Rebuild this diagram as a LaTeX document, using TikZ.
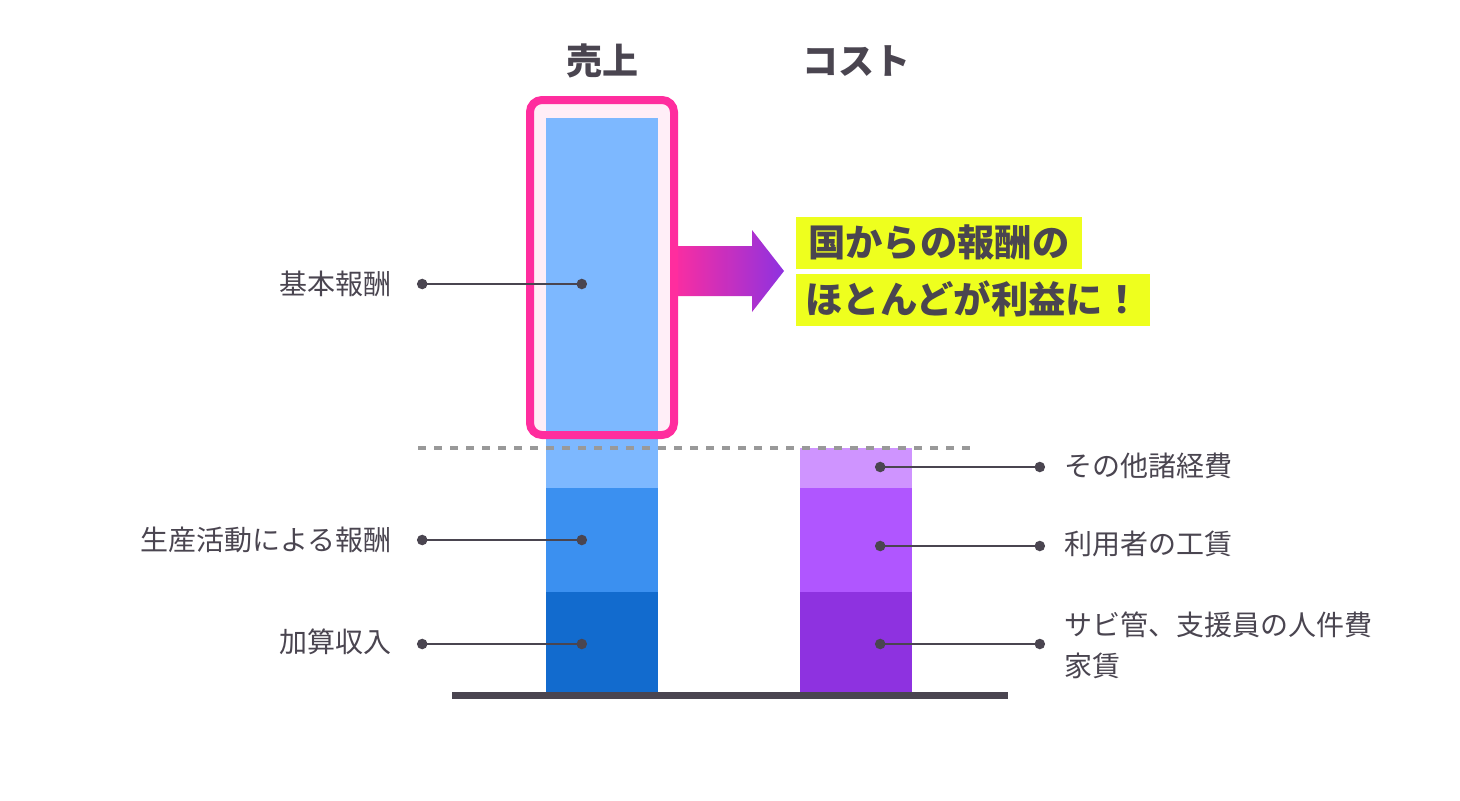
\documentclass[tikz,border=0pt]{standalone}
\usepackage{fontspec}
\setmainfont{Noto Sans CJK JP}
\usetikzlibrary{calc,shapes,arrows,positioning}

\definecolor{inkgray}{HTML}{4A4550}
\definecolor{dashgray}{HTML}{999999}
\definecolor{saleslight}{HTML}{7DB8FF}
\definecolor{salesmid}{HTML}{3B90F0}
\definecolor{salesdark}{HTML}{126BCE}
\definecolor{costlight}{HTML}{CF94FF}
\definecolor{costmid}{HTML}{B056FF}
\definecolor{costdark}{HTML}{8E32E0}
\definecolor{framepink}{HTML}{FF2D9E}
\definecolor{framefill}{HTML}{FFEEF7}
\definecolor{hilite}{HTML}{EEFF1E}

\tikzset{
  leader/.style={draw=inkgray, line width=1.5pt, *-*, shorten <=-3.75pt, shorten >=-3.75pt},
  lefttag/.style={anchor=east, text=inkgray, font=\fontsize{21pt}{26pt}\selectfont, inner sep=0pt},
  righttag/.style={anchor=west, text=inkgray, font=\fontsize{21pt}{31pt}\selectfont, inner sep=0pt, align=left},
  head/.style={text=inkgray, font=\fontsize{27pt}{32pt}\selectfont\bfseries, inner sep=0pt},
  callout/.style={fill=hilite, text=inkgray, font=\fontsize{28pt}{32pt}\selectfont\bfseries,
    inner xsep=9pt, inner ysep=0pt, minimum height=39pt, text height=24pt, text depth=4pt}
}

\begin{document}
\begin{tikzpicture}[x=0.75pt,y=-0.75pt]
    \useasboundingbox (0,0) rectangle (1460,800);
    % headers
    \node[head] (uriage) at (602,61) {売上};
    \node[head] (cost) at (856,61) {コスト};
    % arrow to the message
    \shade[left color=framepink, right color=costdark]
        (670,246) -- (752,246) -- (752,230) -- (784,271) -- (752,312) -- (752,296) -- (670,296) -- cycle;
    % frame round the sales bar
    \fill[framefill, rounded corners=9pt] (530,100) rectangle (674,435);
    % sales bar
    \fill[saleslight] (546,118) rectangle (658,488);
    \fill[salesmid] (546,488) rectangle (658,592);
    \fill[salesdark] (546,592) rectangle (658,692);
    \draw[framepink, line width=6pt, rounded corners=9pt] (530,100) rectangle (674,435);
    % cost bar
    \fill[costlight] (800,448) rectangle (912,488);
    \fill[costmid] (800,488) rectangle (912,592);
    \fill[costdark] (800,592) rectangle (912,692);
    % base and dashed level
    \fill[inkgray] (452,692) rectangle (1008,699);
    \draw[dashgray, line width=3pt, dash pattern=on 6pt off 6pt] (418,448) -- (975,448);
    % leaders, left side
    \coordinate (kihonL) at (422,284);   \coordinate (kihonR) at (582,284);
    \coordinate (seisanL) at (422,540);  \coordinate (seisanR) at (582,540);
    \coordinate (kasanL) at (422,644);   \coordinate (kasanR) at (582,644);
    \draw[leader] (kihonL) -- (kihonR);
    \draw[leader] (seisanL) -- (seisanR);
    \draw[leader] (kasanL) -- (kasanR);
    \node[lefttag] (kihon) at (392,284) {基本報酬};
    \node[lefttag] (seisan) at (392,540) {生産活動による報酬};
    \node[lefttag] (kasan) at (392,642) {加算収入};
    % leaders, right side
    \coordinate (sonotaL) at (880,467);  \coordinate (sonotaR) at (1040,467);
    \coordinate (kouchinL) at (880,546); \coordinate (kouchinR) at (1040,546);
    \coordinate (jinkenL) at (880,644);  \coordinate (jinkenR) at (1040,644);
    \draw[leader] (sonotaL) -- (sonotaR);
    \draw[leader] (kouchinL) -- (kouchinR);
    \draw[leader] (jinkenL) -- (jinkenR);
    \node[righttag] (sonota) at (1064,466) {その他諸経費};
    \node[righttag] (kouchin) at (1064,544) {利用者の工賃};
    \node[righttag] (jinken) at (1064,645) {サビ管、支援員の人件費\\家賃};
    % message
    \node[callout, anchor=north west] (msgA) at (796,217) {国からの報酬の};
    \node[callout, below=3.5pt of msgA.south west, anchor=north west, inner xsep=7pt] (msgB) {ほとんどが利益に！};
\end{tikzpicture}
\end{document}
